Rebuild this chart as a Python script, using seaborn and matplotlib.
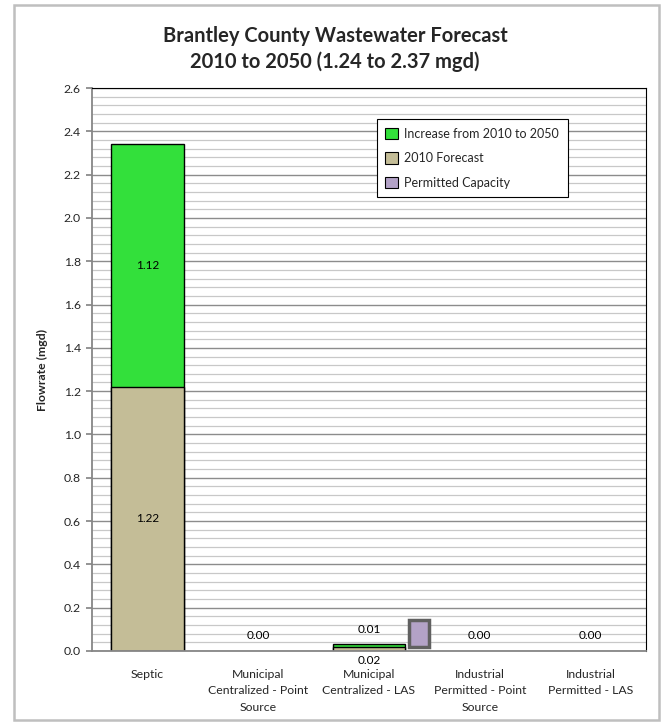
import matplotlib
matplotlib.use("Agg")
import matplotlib.pyplot as plt
from matplotlib.patches import Patch, Rectangle
from matplotlib.ticker import MultipleLocator, FormatStrFormatter
import seaborn as sns
import pandas as pd

# ---- data -------------------------------------------------------------
categories = [
    "Septic",
    "Municipal\nCentralized - Point\nSource",
    "Municipal\nCentralized - LAS",
    "Industrial\nPermitted - Point\nSource",
    "Industrial\nPermitted - LAS",
]
forecast_2010 = [1.22, 0.00, 0.02, 0.00, 0.00]
increase_2010_2050 = [1.12, 0.00, 0.01, 0.00, 0.00]
permitted_capacity = [0.00, 0.00, 0.125, 0.00, 0.00]
y_ticks = [0.0, 0.2, 0.4, 0.6, 0.8, 1.0, 1.2, 1.4, 1.6, 1.8, 2.0, 2.2, 2.4, 2.6]

GREEN = "#33E03B"
TAN = "#C4BD97"
LAVENDER = "#B3A2C7"

df = pd.DataFrame({
    "category": categories,
    "forecast": forecast_2010,
    "increase": increase_2010_2050,
    "capacity": permitted_capacity,
})
df["total"] = df["forecast"] + df["increase"]

# ---- figure -----------------------------------------------------------
sns.set_theme(style="white")
plt.rcParams["font.family"] = ["Lato", "DejaVu Sans"]

fig = plt.figure(figsize=(6.65, 7.25), dpi=100)
ax = fig.add_axes([0.1383, 0.1021, 0.8331, 0.7765])

# outer chart frame
fig.patches.append(Rectangle((14 / 665, 5 / 725), 645 / 665, 715 / 725,
                             transform=fig.transFigure, fill=False,
                             edgecolor="#BFBFBF", linewidth=1.8))

bar_w = 0.656
nonzero_total = df[df["total"] > 0]
nonzero_fc = df[df["forecast"] > 0]

# stacked bars: full total in green, 2010 portion drawn over it in tan
sns.barplot(data=nonzero_total, x="category", y="total", order=categories,
            color=GREEN, saturation=1, width=bar_w, edgecolor="black",
            linewidth=1.0, ax=ax, errorbar=None)
sns.barplot(data=nonzero_fc, x="category", y="forecast", order=categories,
            color=TAN, saturation=1, width=bar_w, edgecolor="black",
            linewidth=1.0, ax=ax, errorbar=None)

# permitted capacity beside the stack
for i, row in df.iterrows():
    if row["capacity"] > 0:
        ax.bar(i + 0.45, row["capacity"], bottom=row["forecast"], width=0.18,
               color=LAVENDER, edgecolor="#606060", linewidth=2.5, zorder=3)

# value labels
lab_kw = dict(ha="center", va="center", fontsize=8.5, color="black", zorder=5)
for i, row in df.iterrows():
    if row["total"] > 0.5:
        ax.text(i, row["forecast"] + row["increase"] / 2,
                f"{row['increase']:.2f}", **lab_kw)
        ax.text(i, row["forecast"] / 2, f"{row['forecast']:.2f}", **lab_kw)
    elif row["total"] > 0:
        ax.text(i, 0.10, f"{row['increase']:.2f}", **lab_kw)
        ax.text(i, -0.046, f"{row['forecast']:.2f}", **lab_kw)
    else:
        ax.text(i, 0.07, f"{row['increase']:.2f}", **lab_kw)

# ---- axes styling ----------------------------------------------------
ax.set_xlim(-0.5, len(categories) - 0.5)
ax.set_ylim(0, 2.6)
ax.set_yticks(y_ticks)
ax.yaxis.set_major_formatter(FormatStrFormatter("%.1f"))
ax.yaxis.set_minor_locator(MultipleLocator(0.04))
ax.set_axisbelow(True)
ax.grid(axis="y", which="major", color="#8C8C8C", linewidth=1.0)
ax.grid(axis="y", which="minor", color="#C8C8C8", linewidth=0.9)
ax.grid(axis="x", visible=False)

ax.tick_params(axis="y", which="major", labelsize=8.8, length=4,
               color="#868686", left=True, pad=4)
ax.tick_params(axis="y", which="minor", length=0)
ax.tick_params(axis="x", labelsize=8.8, length=0, pad=13)
for lab in ax.get_xticklabels():
    lab.set_linespacing(1.6)

for side in ("top", "right"):
    ax.spines[side].set_color("black")
    ax.spines[side].set_linewidth(0.8)
for side in ("left", "bottom"):
    ax.spines[side].set_color("#868686")
    ax.spines[side].set_linewidth(1.3)

ax.set_xlabel("")
ax.set_ylabel("Flowrate (mgd)", fontsize=8.8, fontweight="bold", labelpad=11)

# title
fig.text(0.504, 0.950, "Brantley County Wastewater Forecast",
         ha="center", va="center", fontsize=14.5, fontweight="bold")
fig.text(0.504, 0.915, "2010 to 2050 (1.24 to 2.37 mgd)",
         ha="center", va="center", fontsize=14.5, fontweight="bold")

# legend
handles = [
    Patch(facecolor=GREEN, edgecolor="black", linewidth=0.8,
          label="Increase from 2010 to 2050"),
    Patch(facecolor=TAN, edgecolor="black", linewidth=0.8,
          label="2010 Forecast"),
    Patch(facecolor=LAVENDER, edgecolor="black", linewidth=0.8,
          label="Permitted Capacity"),
]
leg = ax.legend(handles=handles, loc="upper left",
                bbox_to_anchor=(0.514, 0.945), fontsize=9, frameon=True,
                fancybox=False, edgecolor="black", framealpha=1,
                handlelength=1.0, handleheight=1.0, handletextpad=0.5,
                labelspacing=1.0, borderpad=0.7, borderaxespad=0)
leg.get_frame().set_linewidth(0.8)

fig.savefig("out.png", dpi=100)
